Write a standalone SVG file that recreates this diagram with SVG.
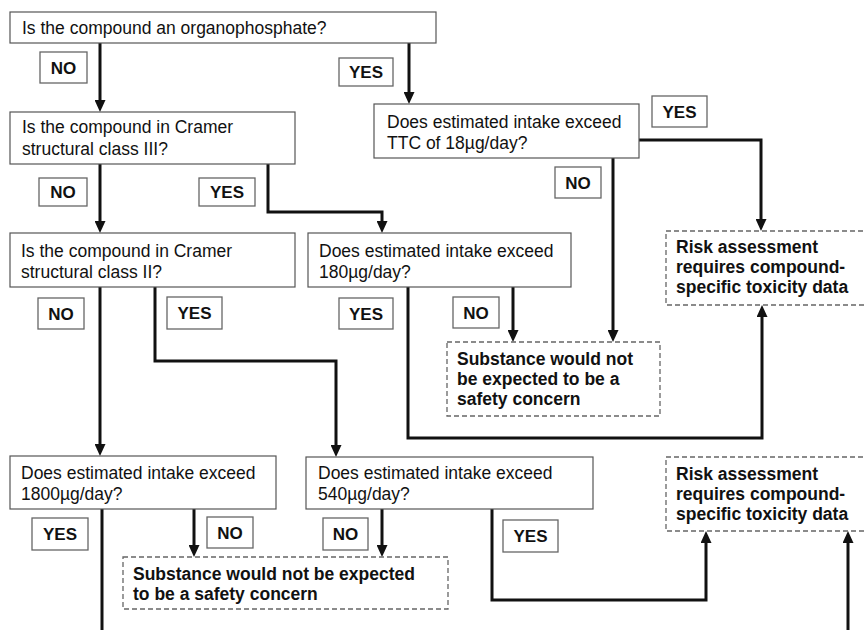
<svg xmlns="http://www.w3.org/2000/svg" width="864" height="630" viewBox="0 0 864 630">
<style>
.q{fill:#fff;stroke:#555;stroke-width:1.2}
.d{fill:#fff;stroke:#666;stroke-width:1.3;stroke-dasharray:5 3}
.l{fill:#fff;stroke:#666;stroke-width:1.3}
.t{font-family:"Liberation Sans",Arial,sans-serif;font-size:17.5px;fill:#111}
.b{font-family:"Liberation Sans",Arial,sans-serif;font-size:17.5px;font-weight:bold;fill:#111}
.lt{font-family:"Liberation Sans",Arial,sans-serif;font-size:17px;font-weight:bold;fill:#111;text-anchor:middle}
.c{fill:none;stroke:#111;stroke-width:3;stroke-linejoin:miter}
.a{fill:none;stroke:#111;stroke-width:3;stroke-linejoin:miter;marker-end:url(#ah)}
</style>
<defs>
<marker id="ah" markerUnits="userSpaceOnUse" markerWidth="12" markerHeight="11" refX="3" refY="5.5" orient="auto">
<path d="M0,0 L12,5.5 L0,11 z" fill="#111"/>
</marker>
</defs>
<rect width="864" height="630" fill="#fff"/>
<g id="connectors">
<path class="a" d="M100,43 V103"/>
<path class="a" d="M409,43 V95"/>
<path class="a" d="M639,140 H761 V222"/>
<path class="a" d="M613,158 V333"/>
<path class="a" d="M100,164 V224"/>
<path class="a" d="M268,164 V212 H382 V224"/>
<path class="a" d="M408,287 V438 H762 V314"/>
<path class="a" d="M513,287 V333"/>
<path class="a" d="M100,287 V447"/>
<path class="a" d="M155,287 V361 H336 V448"/>
<path class="c" d="M102,509 V632"/>
<path class="a" d="M194,509 V548"/>
<path class="a" d="M382,509 V548"/>
<path class="a" d="M492,509 V600 H706 V540"/>
<path class="a" d="M848,632 V540"/>
</g>
<g id="q1"><rect class="q" x="10" y="12" width="426" height="31"/><text class="t" x="22" y="33.5">Is the compound an organophosphate?</text></g>
<g id="q2"><rect class="q" x="10" y="112" width="285" height="52"/><text class="t" x="22" y="133">Is the compound in Cramer</text><text class="t" x="22" y="155">structural class III?</text></g>
<g id="q3"><rect class="q" x="374" y="104" width="265" height="54"/><text class="t" x="387" y="128">Does estimated intake exceed</text><text class="t" x="387" y="149">TTC of 18µg/day?</text></g>
<g id="q4"><rect class="q" x="308" y="233" width="263" height="54"/><text class="t" x="319" y="257">Does estimated intake exceed</text><text class="t" x="319" y="278">180µg/day?</text></g>
<g id="q5"><rect class="q" x="10" y="233" width="285" height="54"/><text class="t" x="21" y="257">Is the compound in Cramer</text><text class="t" x="21" y="278">structural class II?</text></g>
<g id="q6"><rect class="q" x="10" y="456" width="266" height="53"/><text class="t" x="21" y="479">Does estimated intake exceed</text><text class="t" x="21" y="500">1800µg/day?</text></g>
<g id="q7"><rect class="q" x="306" y="457" width="287" height="52"/><text class="t" x="318" y="479">Does estimated intake exceed</text><text class="t" x="318" y="500">540µg/day?</text></g>
<g id="s1"><rect class="d" x="447" y="342" width="213" height="74"/><text class="b" x="457" y="365">Substance would not</text><text class="b" x="457" y="385">be expected to be a</text><text class="b" x="457" y="405">safety concern</text></g>
<g id="r1"><rect class="d" x="666" y="231" width="202" height="74"/><text class="b" x="676" y="253">Risk assessment</text><text class="b" x="676" y="273">requires compound-</text><text class="b" x="676" y="293">specific toxicity data</text></g>
<g id="s2"><rect class="d" x="123" y="557" width="325" height="52"/><text class="b" x="133" y="580">Substance would not be expected</text><text class="b" x="133" y="600">to be a safety concern</text></g>
<g id="r2"><rect class="d" x="666" y="457" width="202" height="74"/><text class="b" x="676" y="480">Risk assessment</text><text class="b" x="676" y="500">requires compound-</text><text class="b" x="676" y="520">specific toxicity data</text></g>
<g id="labels">
<g id="lb1"><rect class="l" x="40" y="52" width="47" height="31"/><text class="lt" x="63.5" y="74">NO</text></g>
<g id="lb2"><rect class="l" x="339" y="58" width="54" height="28"/><text class="lt" x="366" y="78">YES</text></g>
<g id="lb3"><rect class="l" x="652" y="96" width="55" height="31"/><text class="lt" x="679.5" y="118">YES</text></g>
<g id="lb4"><rect class="l" x="555" y="167" width="46" height="31"/><text class="lt" x="578" y="189">NO</text></g>
<g id="lb5"><rect class="l" x="39" y="178" width="48" height="28"/><text class="lt" x="63" y="198">NO</text></g>
<g id="lb6"><rect class="l" x="199" y="178" width="56" height="28"/><text class="lt" x="227" y="198">YES</text></g>
<g id="lb7"><rect class="l" x="38" y="298" width="46" height="31"/><text class="lt" x="61" y="320">NO</text></g>
<g id="lb8"><rect class="l" x="167" y="297" width="55" height="32"/><text class="lt" x="194.5" y="319">YES</text></g>
<g id="lb9"><rect class="l" x="339" y="298" width="54" height="31"/><text class="lt" x="366" y="320">YES</text></g>
<g id="lb10"><rect class="l" x="453" y="297" width="46" height="31"/><text class="lt" x="476" y="319">NO</text></g>
<g id="lb11"><rect class="l" x="32" y="518" width="56" height="32"/><text class="lt" x="60" y="540">YES</text></g>
<g id="lb12"><rect class="l" x="207" y="517" width="46" height="31"/><text class="lt" x="230" y="539">NO</text></g>
<g id="lb13"><rect class="l" x="323" y="518" width="45" height="32"/><text class="lt" x="345.5" y="540">NO</text></g>
<g id="lb14"><rect class="l" x="503" y="520" width="55" height="32"/><text class="lt" x="530.5" y="542">YES</text></g>
</g>
</svg>
